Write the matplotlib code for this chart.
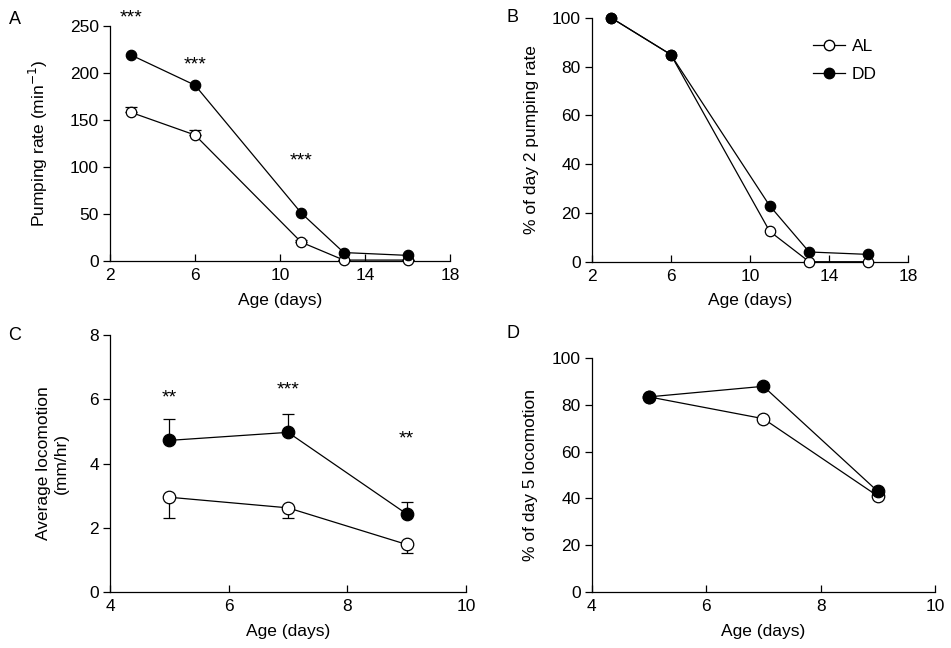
import numpy as np
import matplotlib
matplotlib.use("Agg")
import matplotlib.pyplot as plt

plt.rcParams['font.family'] = ['Liberation Sans', 'DejaVu Sans']
plt.rcParams['font.size'] = 12.5

# panel A/B data (pumping)
age_pump = [3, 6, 11, 13, 16]
pump_al = [158, 134, 20, 1, 1]
pump_al_err = [6, 5, 2, 0.5, 0.5]
pump_dd = [219, 187, 51, 9, 6]
pct_al = [100, 85, 12.5, 0, 0]
pct_dd = [100, 85, 23, 4, 3]
stars_a = [(3, 258, "***"), (6, 209, "***"), (11, 106, "***")]

# panel C/D data (locomotion)
age_loc = [5, 7, 9]
loc_al = [2.95, 2.62, 1.48]
loc_al_err = [0.65, 0.32, 0.26]
loc_dd = [4.72, 4.97, 2.43]
loc_dd_err = [0.68, 0.58, 0.37]
pct_loc_al = [83.3, 74, 41]
pct_loc_dd = [83.3, 87.8, 43]
stars_c = [(5, 6.05, "**"), (7, 6.3, "***"), (9, 4.75, "**")]

fig = plt.figure(figsize=(9.51, 6.48), dpi=100)
axA = fig.add_axes([0.1157, 0.5972, 0.3575, 0.3627])
axB = fig.add_axes([0.6222, 0.5961, 0.3326, 0.3761])
axC = fig.add_axes([0.1157, 0.0864, 0.3743, 0.3966])
axD = fig.add_axes([0.6222, 0.0860, 0.3610, 0.3620])

def style(ax):
    for s in ['top', 'right']:
        ax.spines[s].set_visible(False)
    ax.spines['left'].set_linewidth(0.9)
    ax.spines['bottom'].set_linewidth(0.9)
    ax.tick_params(axis='x', direction='in', length=5, width=0.9, pad=5)
    ax.tick_params(axis='y', direction='out', length=5, width=0.9, pad=3)

def series(ax, x, y, filled, ms, err=None, up=True):
    fc = 'black' if filled else 'white'
    if err is not None:
        if up:
            yerr = [np.zeros(len(err)), err]
        else:
            yerr = [err, np.zeros(len(err))]
        ax.errorbar(x, y, yerr=yerr, fmt='none', ecolor='black', elinewidth=0.9,
                    capsize=4, capthick=0.9, zorder=2)
    ax.plot(x, y, color='black', lw=0.9, marker='o', ms=ms, mfc=fc, mec='black',
            mew=0.9, zorder=3, clip_on=False)

# A
style(axA)
series(axA, age_pump, pump_al, False, 7.5, pump_al_err, up=True)
series(axA, age_pump, pump_dd, True, 7.5)
for x, y, t in stars_a:
    axA.text(x, y, t, ha='center', va='center', fontsize=14)
axA.set_xlim(2, 18)
axA.set_ylim(0, 250)
axA.set_xticks([2, 6, 10, 14, 18])
axA.set_yticks([0, 50, 100, 150, 200, 250])
axA.set_xlabel("Age (days)", labelpad=7)
axA.set_ylabel("Pumping rate (min$^{-1}$)", labelpad=14)

# B
style(axB)
series(axB, age_pump, pct_al, False, 7.5)
series(axB, age_pump, pct_dd, True, 7.5)
axB.plot([], [], color='black', lw=0.9, marker='o', ms=7.5, mfc='white', mec='black', label='AL')
axB.plot([], [], color='black', lw=0.9, marker='o', ms=7.5, mfc='black', mec='black', label='DD')
h, l = axB.get_legend_handles_labels()
axB.legend(h[-2:], l[-2:], loc='upper right', frameon=False, bbox_to_anchor=(0.95, 0.98),
           handlelength=1.8, handletextpad=0.4, labelspacing=0.75)
axB.set_xlim(2, 18)
axB.set_ylim(0, 100)
axB.set_xticks([2, 6, 10, 14, 18])
axB.set_yticks([0, 20, 40, 60, 80, 100])
axB.set_xlabel("Age (days)", labelpad=7)
axB.set_ylabel("% of day 2 pumping rate", labelpad=9)

# C
style(axC)
series(axC, age_loc, loc_al, False, 9, loc_al_err, up=False)
series(axC, age_loc, loc_dd, True, 9, loc_dd_err, up=True)
for x, y, t in stars_c:
    axC.text(x, y, t, ha='center', va='center', fontsize=14)
axC.set_xlim(4, 10)
axC.set_ylim(0, 8)
axC.set_xticks([4, 6, 8, 10])
axC.set_yticks([0, 2, 4, 6, 8])
axC.set_xlabel("Age (days)", labelpad=7)
axC.set_ylabel("Average locomotion\n(mm/hr)", labelpad=15)

# D
style(axD)
series(axD, age_loc, pct_loc_al, False, 9)
series(axD, age_loc, pct_loc_dd, True, 9)
axD.set_xlim(4, 10)
axD.set_ylim(0, 100)
axD.set_xticks([4, 6, 8, 10])
axD.set_yticks([0, 20, 40, 60, 80, 100])
axD.set_xlabel("Age (days)", labelpad=7)
axD.set_ylabel("% of day 5 locomotion", labelpad=10)

for lab, x, y in [("A", 15, 19), ("B", 512, 18), ("C", 15, 335), ("D", 513, 334)]:
    fig.text(x / 951, 1 - y / 648, lab, ha='center', va='center', fontsize=13)

fig.savefig("out.png", dpi=100)
